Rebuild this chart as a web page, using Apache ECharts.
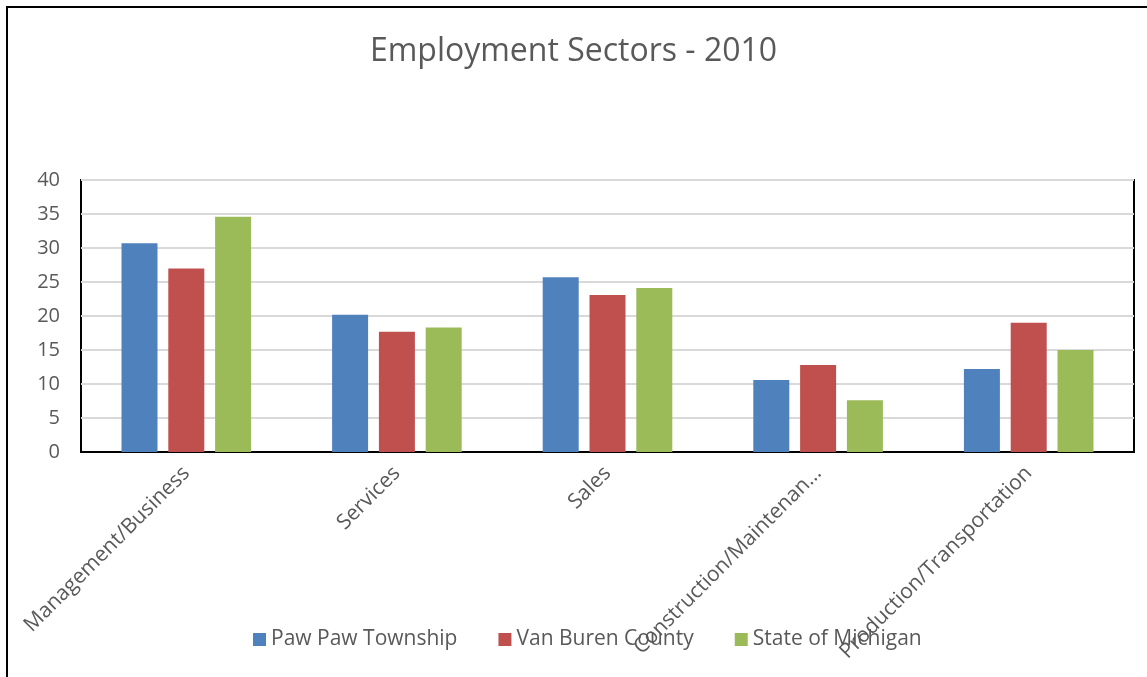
<!DOCTYPE html>
<html>
<head>
<meta charset="utf-8">
<title>Employment Sectors - 2010</title>
<script src="https://cdn.jsdelivr.net/npm/echarts@6/dist/echarts.min.js"></script>
<style>
	html, body { margin: 0; padding: 0; background: #fff; }
	#frame { position: absolute; left: 6px; top: 6px; width: 1141px; height: 671px; border-left: 2px solid #000; border-top: 2px solid #000; box-sizing: border-box; }
	#main { position: absolute; left: 0; top: 0; width: 1147px; height: 677px; }
</style>
</head>
<body>
<div id="frame"></div>
<div id="main"></div>
<script>
	//分类
	var categories = ['Management/Business', 'Services', 'Sales', 'Construction/Maintenan…', 'Production/Transportation'];
	//系列名称
	var seriesNames = ['Paw Paw Township', 'Van Buren County', 'State of Michigan'];
	//各系列数值（%）
	var pawPaw = [30.7, 20.2, 25.7, 10.6, 12.2];
	var vanBuren = [27.0, 17.7, 23.1, 12.8, 19.0];
	var michigan = [34.6, 18.3, 24.1, 7.6, 15.0];
	var colors = ['#4f81bd', '#c0504d', '#9bbb59'];

	var font = '"Open Sans", sans-serif';
	var textColor = '#595959';

	function makeBar(name, data, color) {
		return {
			name: name,
			type: 'bar',
			data: data,
			barWidth: 36,
			barGap: '30%',
			itemStyle: { color: color }
		};
	}

	var myChart = echarts.init(document.getElementById('main'));
	var option = {
		animation: false,
		title: {
			text: 'Employment Sectors - 2010',
			left: 'center',
			top: 31,
			textStyle: { fontFamily: font, fontSize: 32, fontWeight: 'normal', color: textColor }
		},
		legend: {
			bottom: 22,
			left: 248,
			itemWidth: 13,
			itemHeight: 13,
			itemGap: 41,
			icon: 'rect',
			textStyle: { fontFamily: font, fontSize: 21, color: textColor },
			data: seriesNames
		},
		grid: {
			left: 81,
			right: 13,
			top: 180,
			height: 272,
			show: true,
			borderColor: '#000',
			borderWidth: 2,
			containLabel: false
		},
		xAxis: {
			type: 'category',
			data: categories,
			axisLine: { lineStyle: { color: '#000', width: 2 } },
			axisTick: { show: false },
			axisLabel: {
				rotate: 45,
				margin: 18,
				interval: 0,
				fontFamily: font,
				fontSize: 21,
				color: textColor
			}
		},
		yAxis: {
			type: 'value',
			min: 0,
			max: 40,
			interval: 5,
			axisLine: { show: false },
			axisTick: { show: false },
			axisLabel: { margin: 21, fontFamily: font, fontSize: 20, color: textColor },
			splitLine: { lineStyle: { color: '#d9d9d9', width: 2 } }
		},
		series: [
			makeBar(seriesNames[0], pawPaw, colors[0]),
			makeBar(seriesNames[1], vanBuren, colors[1]),
			makeBar(seriesNames[2], michigan, colors[2])
		]
	};
	myChart.setOption(option);
</script>
</body>
</html>
